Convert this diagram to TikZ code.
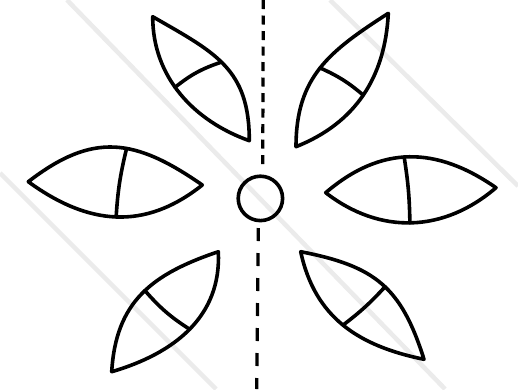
\documentclass[tikz,border=0pt]{standalone}
\begin{document}
\begin{tikzpicture}[x=1pt,y=-1pt,
  leafline/.style={line width=3.6pt, line join=round, line cap=round, black},
  wmstripe/.style={line width=4.5pt, color=black!8},
  topdash/.style={line width=3.2pt, dash pattern=on 9pt off 6.5pt},
  botdash/.style={line width=3.2pt, dash pattern=on 13pt off 12pt}]
\fill[white] (0,0) rectangle (518,389);
\useasboundingbox (0,0) rectangle (518,389);
% faint diagonal stripes
\coordinate (s1a) at (67,0);   \coordinate (s1b) at (445,389);
\coordinate (s2a) at (330,0);  \coordinate (s2b) at (518,186);
\coordinate (s3a) at (0,173);  \coordinate (s3b) at (216,389);
\draw[wmstripe] (s1a) -- (s1b);
\draw[wmstripe] (s2a) -- (s2b);
\draw[wmstripe] (s3a) -- (s3b);
% dashed axis
\coordinate (ax1) at (263.3,0);   \coordinate (ax2) at (262.7,167);
\coordinate (ax3) at (258.3,228); \coordinate (ax4) at (256.7,389);
\draw[topdash] (ax1) -- (ax2);
\draw[botdash] (ax3) -- (ax4);
% centre circle
\coordinate (cen) at (260.4,198.4);
\draw[leafline] (cen) circle[radius=22.2pt];
% top-left leaf
\coordinate (tlA) at (152.7,16.7); \coordinate (tlB) at (249.3,140.7);
\draw[leafline] (tlA) .. controls +(0,60) and +(-56,-20) .. (tlB) coordinate[pos=0.45] (tlp)
  .. controls +(0,-72) and +(62.6,36) .. (tlA) coordinate[pos=0.53] (tlq) -- cycle;
\draw[leafline] (tlp) to[bend left=10] (tlq);
% top-right leaf
\coordinate (trA) at (388.3,13.3); \coordinate (trB) at (296,146.7);
\draw[leafline] (trA) .. controls +(-58.8,37.8) and +(0,-70) .. (trB) coordinate[pos=0.5] (trp)
  .. controls +(59.5,-23.7) and +(-3.2,64) .. (trA) coordinate[pos=0.5] (trq) -- cycle;
\draw[leafline] (trp) to[bend left=8] (trq);
% left leaf
\coordinate (lA) at (28.3,181.7); \coordinate (lB) at (202.3,185);
\draw[leafline] (lA) .. controls +(64.8,-50) and +(-67.2,-46.7) .. (lB) coordinate[pos=0.575] (lp)
  .. controls +(-57.7,45.9) and +(59.9,43.7) .. (lA) coordinate[pos=0.5] (lq) -- cycle;
\draw[leafline] (lp) to[bend right=5] (lq);
% right leaf
\coordinate (rA) at (325.7,192.7); \coordinate (rB) at (496,187.7);
\draw[leafline] (rA) .. controls +(55.5,-47.5) and +(-59.9,-41.6) .. (rB) coordinate[pos=0.47] (rp)
  .. controls +(-52.4,44.9) and +(54.5,42.1) .. (rA) coordinate[pos=0.51] (rq) -- cycle;
\draw[leafline] (rp) to[bend left=4] (rq);
% bottom-left leaf
\coordinate (blA) at (218.3,251.7); \coordinate (blB) at (111.7,371.7);
\draw[leafline] (blA) .. controls +(-66.5,22.4) and +(4.2,-70) .. (blB) coordinate[pos=0.47] (blp)
  .. controls +(62.4,-18.2) and +(3.25,65) .. (blA) coordinate[pos=0.5] (blq) -- cycle;
\draw[leafline] (blp) to[bend right=8] (blq);
% bottom-right leaf
\coordinate (brA) at (300.7,251.7); \coordinate (brB) at (424,359.3);
\draw[leafline] (brA) .. controls +(74.5,14.4) and +(-22.8,-72.2) .. (brB) coordinate[pos=0.53] (brp)
  .. controls +(-65.7,-13.4) and +(14.1,65.7) .. (brA) coordinate[pos=0.5] (brq) -- cycle;
\draw[leafline] (brp) to[bend left=5] (brq);
\end{tikzpicture}
\end{document}
